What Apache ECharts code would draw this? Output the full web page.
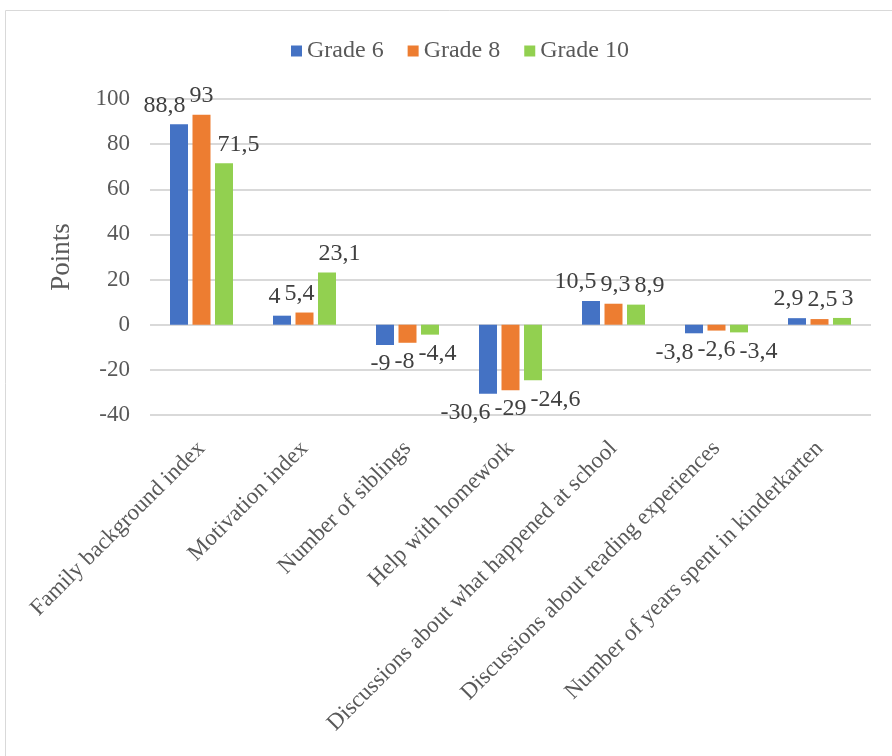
<!DOCTYPE html>
<html>
<head>
<meta charset="utf-8">
<style>
  html, body { margin: 0; padding: 0; background: #fff; }
  #chart { width: 892px; height: 756px; }
</style>
<script src="https://cdn.jsdelivr.net/npm/echarts@6/dist/echarts.min.js"></script>
</head>
<body>
<div id="chart"></div>
<script>
// Predictors of reading achievement, effect in points by grade
const categories = [
  'Family background index',
  'Motivation index',
  'Number of siblings',
  'Help with homework',
  'Discussions about what happened at school',
  'Discussions about reading experiences',
  'Number of years spent in kinderkarten'
];
const seriesNames = ['Grade 6', 'Grade 8', 'Grade 10'];
const grade6 = [88.8, 4, -9, -30.6, 10.5, -3.8, 2.9];
const grade8 = [93, 5.4, -8, -29, 9.3, -2.6, 2.5];
const grade10 = [71.5, 23.1, -4.4, -24.6, 8.9, -3.4, 3];
const yTicks = { min: -40, max: 100, interval: 20 };

const colors = ['#4472C4', '#ED7D31', '#92D050'];
const FONT = '"Liberation Serif", "Times New Roman", serif';
const LABEL_SIZE = 24;
const BAR_WIDTH = 18;
const BAR_GAP = 0.25;

// decimal comma formatting
const fmt = v => String(v).replace('.', ',');

// Spread value labels of one category sideways so neighbours do not collide.
const allSeries = [grade6, grade8, grade10];
const measureCtx = document.createElement('canvas').getContext('2d');
measureCtx.font = LABEL_SIZE + 'px ' + FONT;
const step = BAR_WIDTH * (1 + BAR_GAP);
const labelShift = allSeries.map(() => []);
categories.forEach((_, ci) => {
  const n = allSeries.length;
  const w = allSeries.map(s => measureCtx.measureText(fmt(s[ci])).width);
  const base = allSeries.map((_, si) => (si - (n - 1) / 2) * step);
  const x = base.slice();
  const pad = 4;
  for (let iter = 0; iter < 20; iter++) {
    let moved = false;
    for (let i = 0; i < n - 1; i++) {
      const overlap = (x[i] + w[i] / 2 + pad) - (x[i + 1] - w[i + 1] / 2);
      if (overlap > 0.01) {
        x[i] -= overlap / 2;
        x[i + 1] += overlap / 2;
        moved = true;
      }
    }
    if (!moved) break;
  }
  allSeries.forEach((_, si) => { labelShift[si][ci] = x[si] - base[si]; });
});

function makeSeries(si) {
  return {
    name: seriesNames[si],
    type: 'bar',
    barWidth: BAR_WIDTH,
    barGap: (BAR_GAP * 100) + '%',
    itemStyle: { color: colors[si] },
    data: allSeries[si].map(v => ({
      value: v,
      label: { position: v >= 0 ? 'top' : 'bottom' }
    })),
    label: {
      show: true,
      distance: 7,
      fontFamily: FONT,
      fontSize: LABEL_SIZE,
      color: '#404040',
      formatter: p => fmt(p.value)
    },
    labelLayout: p => ({ dx: labelShift[p.seriesIndex][p.dataIndex] })
  };
}

const chart = echarts.init(document.getElementById('chart'), null, { renderer: 'canvas' });
chart.setOption({
  animation: false,
  textStyle: { fontFamily: FONT },
  graphic: [{
    type: 'rect',
    shape: { x: 5.5, y: 10.5, width: 1000, height: 1000 },
    style: { fill: null, stroke: '#D9D9D9', lineWidth: 1 },
    silent: true
  }],
  legend: {
    top: 34,
    left: 286,
    itemWidth: 11,
    itemHeight: 11,
    itemGap: 24,
    icon: 'rect',
    textStyle: { fontFamily: FONT, fontSize: 24, color: '#595959' },
    data: seriesNames
  },
  grid: { left: 150, right: 21, top: 99, bottom: 341, containLabel: false },
  xAxis: {
    type: 'category',
    data: categories,
    axisLine: { show: false, onZero: false },
    axisTick: { show: false },
    axisLabel: {
      interval: 0,
      rotate: 45,
      margin: 30,
      fontFamily: FONT,
      fontSize: 23,
      color: '#595959'
    }
  },
  yAxis: {
    type: 'value',
    min: yTicks.min,
    max: yTicks.max,
    interval: yTicks.interval,
    name: 'Points',
    nameLocation: 'middle',
    nameGap: 75,
    nameRotate: 90,
    nameTextStyle: { fontFamily: FONT, fontSize: 27, color: '#595959' },
    axisLine: { show: false },
    axisTick: { show: false },
    axisLabel: { fontFamily: FONT, fontSize: 23, color: '#595959', margin: 20 },
    splitLine: { lineStyle: { color: '#D9D9D9', width: 2 } }
  },
  series: [makeSeries(0), makeSeries(1), makeSeries(2)]
});
</script>
</body>
</html>
